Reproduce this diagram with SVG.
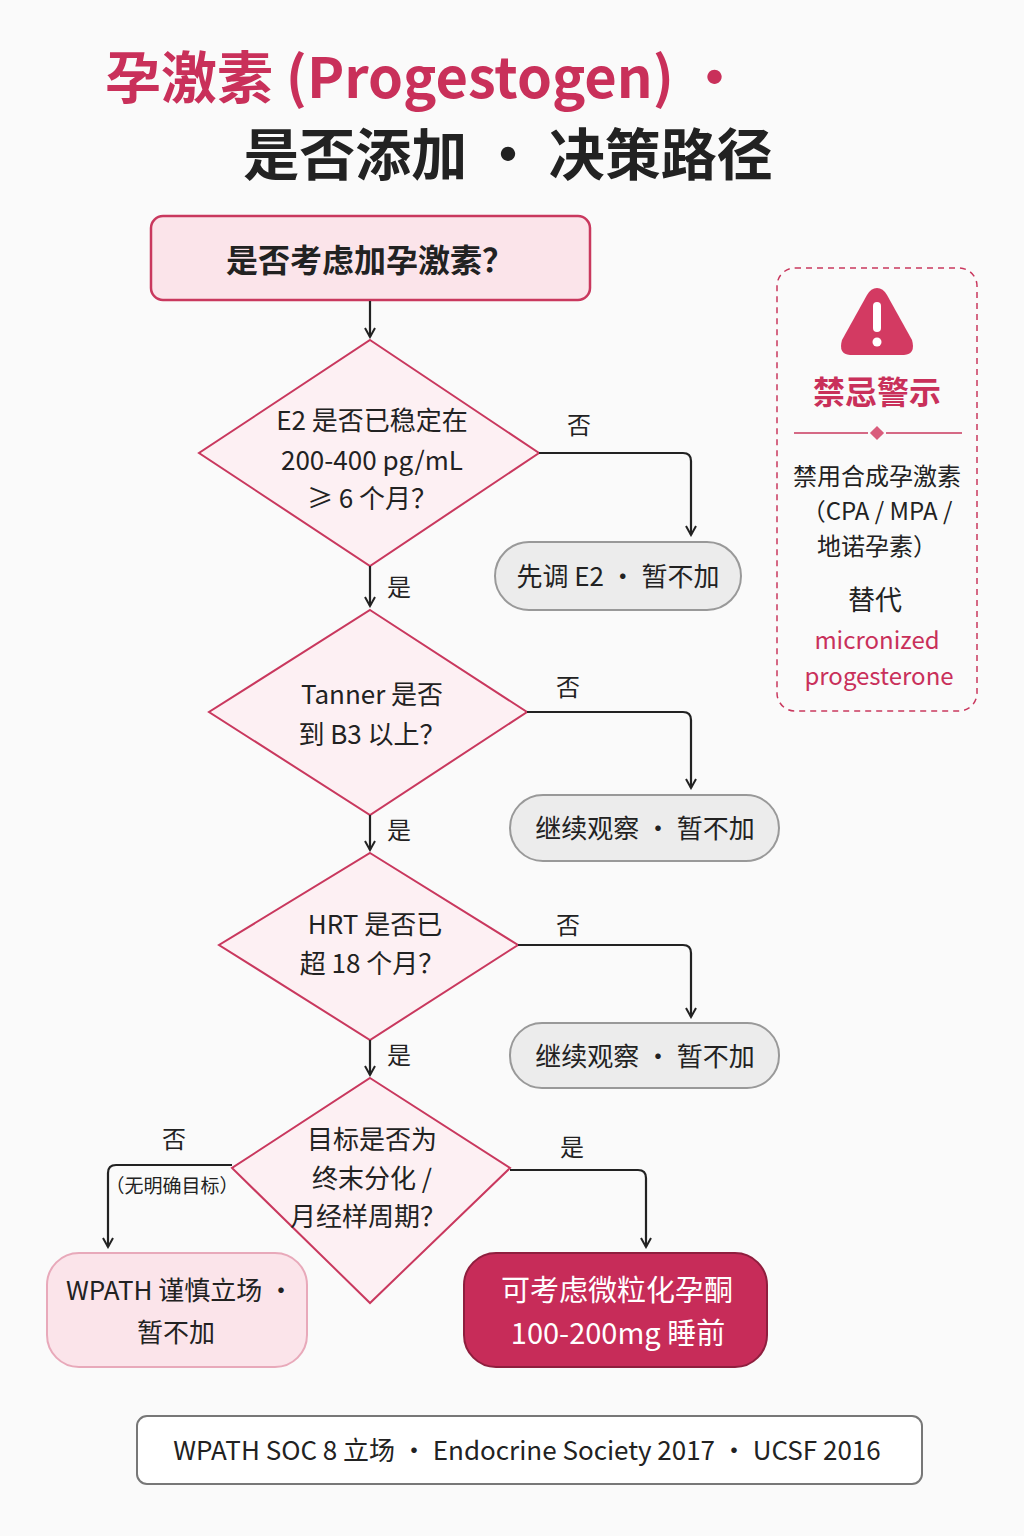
<svg xmlns="http://www.w3.org/2000/svg" width="1024" height="1536" viewBox="0 0 1024 1536">
<style>
text{font-family:"Noto Sans CJK SC","Noto Sans",sans-serif;fill:#222}
.t{font-size:26px;text-anchor:middle}
.l{font-size:24px;text-anchor:middle}
.dia{fill:#fdf0f3;stroke:#c9385e;stroke-width:2}
.gray{fill:#ececec;stroke:#999;stroke-width:2}
.con{fill:none;stroke:#222;stroke-width:2.2;marker-end:url(#a)}
</style>
<defs><marker id="a" viewBox="0 0 12 12" refX="10" refY="6" markerWidth="12" markerHeight="12" markerUnits="userSpaceOnUse" orient="auto"><path d="M1,1 L10,6 L1,11" fill="none" stroke="#222" stroke-width="2"/></marker></defs>
<rect width="1024" height="1536" fill="#fafafa"/>
<g id="title">
<text x="105" y="98" style="font-size:56px;font-weight:700;fill:#c9305a">孕激素 (Progestogen) ·</text>
<text x="508" y="175" style="font-size:56px;font-weight:700;text-anchor:middle">是否添加 · 决策路径</text>
</g>
<g id="start"><rect x="151" y="216" width="439" height="84" rx="12" fill="#fbe4ea" stroke="#c9385e" stroke-width="2.5"/><text class="t" x="370" y="272" style="font-size:32px;font-weight:700">是否考虑加孕激素？</text></g>
<g id="d1"><polygon class="dia" points="370,340 539,453 370,566 199,453"/><text class="t" x="372" y="430">E2 是否已稳定在</text><text class="t" x="372" y="470">200-400 pg/mL</text><text class="t" x="372" y="508">≥ 6 个月？</text></g>
<g id="n1"><rect class="gray" x="495" y="542" width="246" height="68" rx="34"/><text class="t" x="618" y="586">先调 E2 · 暂不加</text></g>
<g id="d2"><polygon class="dia" points="370,610 527,712 370,815 209,712"/><text class="t" x="372" y="704">Tanner 是否</text><text class="t" x="372" y="744">到 B3 以上？</text></g>
<g id="n2"><rect class="gray" x="510" y="795" width="269" height="66" rx="33"/><text class="t" x="645" y="838">继续观察 · 暂不加</text></g>
<g id="d3"><polygon class="dia" points="370,853 518,945 370,1040 219,945"/><text class="t" x="375" y="934">HRT 是否已</text><text class="t" x="372" y="973">超 18 个月？</text></g>
<g id="n3"><rect class="gray" x="510" y="1023" width="269" height="65" rx="32"/><text class="t" x="645" y="1066">继续观察 · 暂不加</text></g>
<g id="d4"><polygon class="dia" points="370,1078 510,1168 370,1303 232,1168"/><text class="t" x="372" y="1149">目标是否为</text><text class="t" x="372" y="1188">终末分化 /</text><text class="t" x="368" y="1226">月经样周期？</text></g>
<g id="n4"><rect x="47" y="1253" width="260" height="114" rx="32" fill="#fbe4ea" stroke="#e8a9ba" stroke-width="2"/><text class="t" x="180" y="1300">WPATH 谨慎立场 ·</text><text class="t" x="176" y="1342">暂不加</text></g>
<g id="n5"><rect x="464" y="1253" width="303" height="114" rx="32" fill="#c72c59" stroke="#8f1e3e" stroke-width="2"/><text class="t" x="617" y="1301" style="fill:#fff;font-size:29px">可考虑微粒化孕酮</text><text class="t" x="618" y="1344" style="fill:#fff;font-size:29px">100-200mg 睡前</text></g>
<g id="warn">
<rect x="777" y="268" width="200" height="443" rx="18" fill="none" stroke="#c9385e" stroke-width="1.5" stroke-dasharray="6,5"/>
<path d="M877,288 Q871,288 867,295 L842,340 Q838,354 850,355 L904,355 Q916,354 912,340 L887,295 Q883,288 877,288Z" fill="#d33a62"/>
<rect x="873" y="302" width="8" height="30" rx="4" fill="#fff"/><circle cx="877" cy="342" r="4.5" fill="#fff"/>
<text x="877" y="404" style="font-size:32px;font-weight:700;fill:#c9305a;text-anchor:middle">禁忌警示</text>
<line x1="794" y1="433" x2="868" y2="433" stroke="#c9385e" stroke-width="1.5"/><line x1="886" y1="433" x2="962" y2="433" stroke="#c9385e" stroke-width="1.5"/>
<rect x="872" y="428" width="10" height="10" fill="#d95c7c" transform="rotate(45 877 433)"/>
<text class="l" x="877" y="485">禁用合成孕激素</text><text class="l" x="877" y="520">（CPA / MPA /</text><text class="l" x="877" y="555">地诺孕素）</text>
<text class="l" x="875" y="610" style="font-size:27px">替代</text>
<text class="l" x="877" y="649" style="fill:#c9305a">micronized</text><text class="l" x="879" y="685" style="fill:#c9305a">progesterone</text>
</g>
<g id="connectors">
<path class="con" d="M370,301 V337"/>
<path class="con" d="M539,453 H683 Q691,453 691,461 V535"/>
<path class="con" d="M370,566 V606"/>
<path class="con" d="M527,712 H683 Q691,712 691,720 V788"/>
<path class="con" d="M370,815 V850"/>
<path class="con" d="M518,945 H683 Q691,945 691,953 V1017"/>
<path class="con" d="M370,1040 V1075"/>
<path class="con" d="M510,1170 H638 Q646,1170 646,1178 V1247"/>
<path class="con" d="M232,1165 H116 Q108,1165 108,1173 V1247"/>
<text class="l" x="579" y="434">否</text><text class="l" x="399" y="596">是</text>
<text class="l" x="568" y="696">否</text><text class="l" x="399" y="839">是</text>
<text class="l" x="568" y="934">否</text><text class="l" x="399" y="1064">是</text>
<text class="l" x="572" y="1156">是</text><text class="l" x="174" y="1148">否</text>
<text x="172" y="1193" style="font-size:19px;text-anchor:middle">（无明确目标）</text>
</g>
<g id="footer"><rect x="137" y="1416" width="785" height="68" rx="10" fill="#fff" stroke="#777" stroke-width="2"/><text class="t" x="527" y="1460">WPATH SOC 8 立场  ·  Endocrine Society 2017  ·  UCSF 2016</text></g>
</svg>
